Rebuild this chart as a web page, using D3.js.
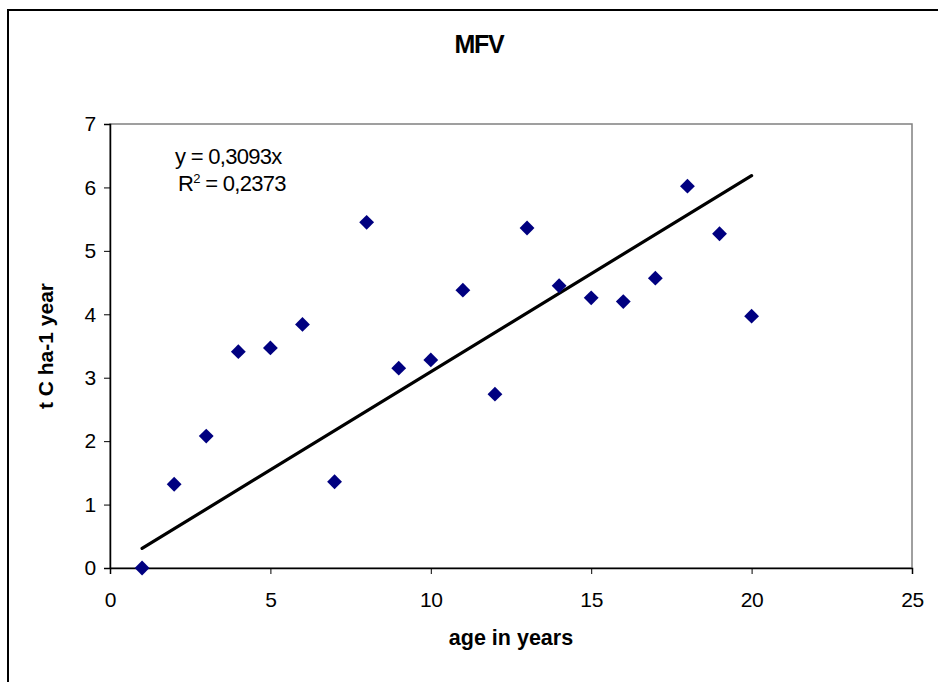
<!DOCTYPE html>
<html>
<head>
<meta charset="utf-8">
<script src="https://cdn.jsdelivr.net/npm/d3@7"></script>
<style>
  html, body { margin: 0; padding: 0; background: #fff; }
  svg { display: block; }
  text { font-family: "Liberation Sans", Arial, sans-serif; fill: #000; }
</style>
</head>
<body>
<svg id="chart" width="938" height="682"></svg>
<script>
// Age of stand (years) and annual carbon increment (t C ha-1 year)
const ages = [1, 2, 3, 4, 5, 6, 7, 8, 9, 10, 11, 12, 13, 14, 15, 16, 17, 18, 19, 20];
const carbon = [0.00, 1.32, 2.08, 3.41, 3.47, 3.84, 1.36, 5.45, 3.15, 3.28,
                4.38, 2.74, 5.36, 4.45, 4.26, 4.20, 4.57, 6.02, 5.27, 3.97];
// Linear trend through the origin
const slope = 0.3093;
const rSquared = "0,2373";
const trendX = [1, 20];
const xTicks = [0, 5, 10, 15, 20, 25];
const yTicks = [0, 1, 2, 3, 4, 5, 6, 7];

const svg = d3.select("#chart");

const x = d3.scaleLinear().domain([0, 25]).range([110, 912]);
const y = d3.scaleLinear().domain([0, 7]).range([568, 124]);

// outer chart frame
svg.append("rect")
  .attr("x", 8).attr("y", 10)
  .attr("width", 940).attr("height", 680)
  .attr("fill", "#fff")
  .attr("stroke", "#000").attr("stroke-width", 2);

// plot area frame
svg.append("rect")
  .attr("x", x(0)).attr("y", y(7))
  .attr("width", x(25) - x(0)).attr("height", y(0) - y(7))
  .attr("fill", "#fff")
  .attr("stroke", "#808080").attr("stroke-width", 1.5);

// title
svg.append("text")
  .attr("x", 479).attr("y", 53)
  .attr("text-anchor", "middle")
  .attr("font-size", 25).attr("font-weight", "bold")
  .attr("letter-spacing", -1.2)
  .text("MFV");

// axes
const xAxis = svg.append("g")
  .attr("transform", `translate(0,${y(0)})`)
  .call(d3.axisBottom(x).tickValues(xTicks).tickSize(6).tickPadding(18).tickFormat(d3.format("d")));
const yAxis = svg.append("g")
  .attr("transform", `translate(${x(0)},0)`)
  .call(d3.axisLeft(y).tickValues(yTicks).tickSize(6).tickPadding(8).tickFormat(d3.format("d")));

[xAxis, yAxis].forEach(g => {
  g.selectAll("path.domain").attr("stroke", "#000").attr("stroke-width", 1.5);
  g.selectAll(".tick line").attr("stroke", "#000").attr("stroke-width", 1);
  g.selectAll(".tick text")
    .attr("font-size", 21)
    .attr("font-family", "Liberation Sans, Arial, sans-serif")
    .attr("letter-spacing", -0.3)
    .attr("fill", "#000");
});

// axis titles
svg.append("text")
  .attr("x", 511).attr("y", 645)
  .attr("text-anchor", "middle")
  .attr("font-size", 21.5).attr("font-weight", "bold")
  .text("age in years");

svg.append("text")
  .attr("transform", `translate(53,346) rotate(-90)`)
  .attr("text-anchor", "middle")
  .attr("font-size", 21).attr("font-weight", "bold")
  .text("t C ha-1 year");

// trend line
const line = d3.line().x(d => x(d)).y(d => y(slope * d));
svg.append("path")
  .datum(trendX)
  .attr("d", line)
  .attr("fill", "none")
  .attr("stroke", "#000")
  .attr("stroke-width", 3.2)
  .attr("stroke-linecap", "round");

// data markers (diamonds)
const diamond = d3.symbol(d3.symbolSquare, 110);
svg.append("g").selectAll("path")
  .data(ages.map((a, i) => [a, carbon[i]]))
  .join("path")
  .attr("d", diamond)
  .attr("transform", d => `translate(${x(d[0])},${y(d[1])}) rotate(45)`)
  .attr("fill", "#000080");

// regression equation
svg.append("text")
  .attr("x", 175).attr("y", 164)
  .attr("font-size", 22)
  .attr("letter-spacing", -0.7)
  .text("y = " + String(slope).replace(".", ",") + "x");

const r2 = svg.append("text")
  .attr("x", 178).attr("y", 191)
  .attr("font-size", 22)
  .attr("letter-spacing", -0.7);
r2.append("tspan").text("R");
r2.append("tspan").attr("font-size", 13).attr("dy", -8).text("2");
r2.append("tspan").attr("dy", 8).text(" = " + rSquared);
</script>
</body>
</html>
